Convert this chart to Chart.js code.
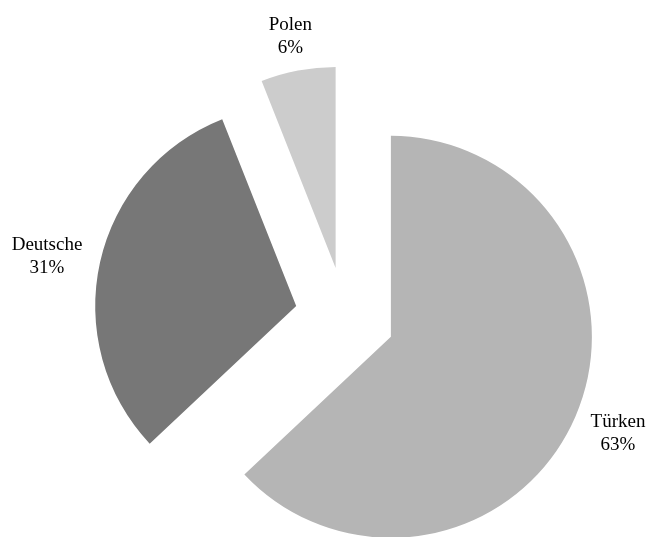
<!DOCTYPE html>
<html>
<head>
<meta charset="utf-8">
<script src="https://cdn.jsdelivr.net/npm/chart.js@4/dist/chart.umd.min.js"></script>
<style>
  html, body { margin: 0; padding: 0; background: #fff; }
  #wrap { width: 653px; height: 537px; }
</style>
</head>
<body>
<div id="wrap"><canvas id="pieChart" width="653" height="537"></canvas></div>
<script>
const labels = ['Türken', 'Deutsche', 'Polen'];
const shares = [63, 31, 6];
const colors = ['#b5b5b5', '#777777', '#cccccc'];

const pieRadius = 201;
const explode = 50;

// move every slice out along its middle angle, keeping one radius for all
// (the built-in offset also grows and narrows the arcs)
const explodedSlices = {
    id: 'explodedSlices',
    beforeDatasetDraw(chart, args) {
        const ctx = chart.ctx;
        args.meta.data.forEach(arc => {
            const mid = (arc.startAngle + arc.endAngle) / 2;
            ctx.save();
            ctx.translate(Math.cos(mid) * explode, Math.sin(mid) * explode);
            arc.draw(ctx);
            ctx.restore();
        });
        return false;
    }
};

// draws "Name\nxx%" outside each slice, the text box pushed out past the edge
const outsideLabels = {
    id: 'outsideLabels',
    afterDatasetsDraw(chart) {
        const ctx = chart.ctx;
        const arcs = chart.getDatasetMeta(0).data;
        const lineGap = 23;
        const boxH = 36;
        ctx.save();
        ctx.font = '19px "Liberation Serif", "Times New Roman", serif';
        ctx.fillStyle = '#000';
        ctx.textAlign = 'center';
        ctx.textBaseline = 'middle';
        arcs.forEach((arc, i) => {
            const pct = shares[i] + '%';
            const boxW = Math.max(ctx.measureText(labels[i]).width, ctx.measureText(pct).width);
            const mid = (arc.startAngle + arc.endAngle) / 2;
            const cx = Math.cos(mid), cy = Math.sin(mid);
            const r = pieRadius + explode + 19;
            const x = arc.x + cx * r + cx * boxW / 2;
            const y = arc.y + cy * r + cy * boxH / 2 + 2.5;
            ctx.fillText(labels[i], x, y - lineGap / 2);
            ctx.fillText(pct, x, y + lineGap / 2);
        });
        ctx.restore();
    }
};

const ctx = document.getElementById('pieChart').getContext('2d');
new Chart(ctx, {
    type: 'pie',
    data: {
        labels: labels,
        datasets: [{
            data: shares,
            backgroundColor: colors,
            borderWidth: 0,
            clip: false
        }]
    },
    options: {
        responsive: false,
        animation: false,
        radius: pieRadius,
        layout: { padding: { left: 37, right: 0, top: 97, bottom: 0 } },
        plugins: {
            legend: { display: false },
            tooltip: { enabled: false }
        }
    },
    plugins: [explodedSlices, outsideLabels]
});
</script>
</body>
</html>
